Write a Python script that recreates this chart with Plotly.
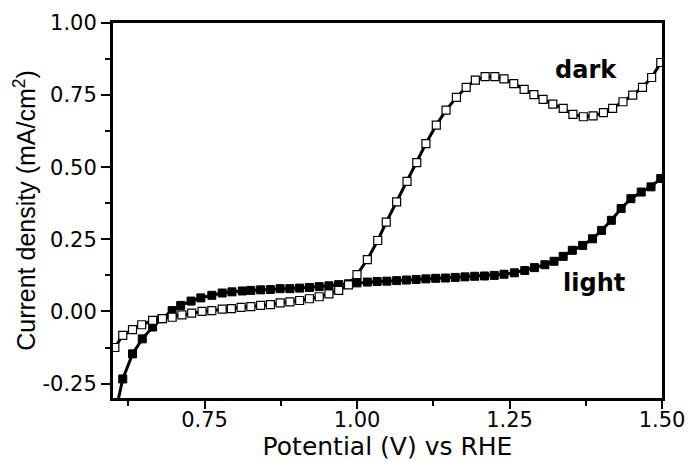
import plotly.graph_objects as go

# ---- data ----
dark_potential = [0.603, 0.616, 0.632, 0.647, 0.665, 0.681, 0.697, 0.713, 0.729, 0.746,
                  0.762, 0.779, 0.794, 0.810, 0.826, 0.842, 0.858, 0.874, 0.890, 0.906,
                  0.922, 0.938, 0.954, 0.970, 0.986, 1.000, 1.017, 1.034, 1.048, 1.065,
                  1.082, 1.098, 1.113, 1.130, 1.146, 1.163, 1.179, 1.194, 1.210, 1.226,
                  1.241, 1.257, 1.274, 1.290, 1.305, 1.321, 1.338, 1.354, 1.371, 1.387,
                  1.404, 1.419, 1.436, 1.452, 1.468, 1.483, 1.498]
dark_current = [-0.125, -0.083, -0.063, -0.046, -0.031, -0.025, -0.020, -0.012, -0.006, 0.000,
                0.003, 0.008, 0.010, 0.014, 0.017, 0.021, 0.024, 0.030, 0.033, 0.038,
                0.044, 0.051, 0.061, 0.073, 0.092, 0.128, 0.180, 0.246, 0.310, 0.380,
                0.451, 0.516, 0.582, 0.646, 0.698, 0.742, 0.777, 0.802, 0.814, 0.814,
                0.806, 0.790, 0.770, 0.752, 0.735, 0.719, 0.704, 0.683, 0.675, 0.678,
                0.689, 0.704, 0.727, 0.750, 0.777, 0.811, 0.863]

light_potential = [0.603, 0.616, 0.632, 0.648, 0.665, 0.680, 0.697, 0.711, 0.728, 0.744,
                   0.762, 0.779, 0.795, 0.812, 0.826, 0.842, 0.858, 0.874, 0.890, 0.906,
                   0.922, 0.938, 0.954, 0.970, 0.986, 1.000, 1.017, 1.033, 1.049, 1.065,
                   1.081, 1.097, 1.113, 1.129, 1.145, 1.161, 1.177, 1.193, 1.209, 1.225,
                   1.241, 1.258, 1.275, 1.291, 1.308, 1.323, 1.338, 1.353, 1.370, 1.386,
                   1.401, 1.417, 1.433, 1.449, 1.466, 1.482, 1.498]
light_current = [-0.360, -0.234, -0.147, -0.095, -0.054, -0.025, 0.003, 0.021, 0.036, 0.047,
                 0.056, 0.064, 0.068, 0.071, 0.073, 0.075, 0.076, 0.079, 0.079, 0.081,
                 0.083, 0.086, 0.089, 0.093, 0.096, 0.099, 0.102, 0.104, 0.105, 0.107,
                 0.109, 0.111, 0.113, 0.115, 0.116, 0.118, 0.120, 0.122, 0.123, 0.125,
                 0.129, 0.134, 0.142, 0.152, 0.162, 0.174, 0.191, 0.212, 0.229, 0.252,
                 0.281, 0.316, 0.357, 0.391, 0.414, 0.432, 0.461]

x_tickvals = [0.75, 1.00, 1.25, 1.50]
x_ticktext = ["0.75", "1.00", "1.25", "1.50"]
y_tickvals = [-0.25, 0.00, 0.25, 0.50, 0.75, 1.00]
y_ticktext = ["-0.25", "0.00", "0.25", "0.50", "0.75", "1.00"]

labels = ["dark", "light"]
label_pos_x = [1.375, 1.388]
label_pos_y = [0.837, 0.100]

FONT = "DejaVu Sans"

fig = go.Figure()
fig.add_trace(go.Scatter(
    x=light_potential, y=light_current, mode="lines+markers", name="light",
    line=dict(color="black", width=3),
    marker=dict(symbol="square", size=8, color="black", line=dict(color="black", width=1)),
))
fig.add_trace(go.Scatter(
    x=dark_potential, y=dark_current, mode="lines+markers", name="dark",
    line=dict(color="black", width=3),
    marker=dict(symbol="square", size=8, color="white", line=dict(color="black", width=1.2)),
))

for t, xx, yy in zip(labels, label_pos_x, label_pos_y):
    fig.add_annotation(x=xx, y=yy, text=f"<b>{t}</b>", showarrow=False,
                       font=dict(family=FONT, size=24, color="black"))

fig.update_layout(
    width=689, height=462,
    margin=dict(l=113, r=27, t=23, b=64),
    paper_bgcolor="white", plot_bgcolor="white",
    showlegend=False,
    font=dict(family=FONT, color="black"),
)
fig.update_xaxes(
    range=[0.6, 1.5], showgrid=False, zeroline=False, automargin=False,
    showline=True, linecolor="black", linewidth=3, mirror=True,
    ticks="outside", ticklen=8, tickwidth=2, tickcolor="black",
    tickvals=x_tickvals, ticktext=x_ticktext,
    minor=dict(ticks="outside", ticklen=5, tickwidth=2, tickcolor="black",
               tickvals=[0.625, 0.875, 1.125, 1.375], showgrid=False),
    tickfont=dict(family=FONT, size=21, color="black"),
    ticklabelstandoff=-7,
    title=dict(text="Potential (V) vs RHE", font=dict(family=FONT, size=25, color="black"), standoff=0),
)
fig.update_yaxes(
    range=[-0.3, 1.0], showgrid=False, zeroline=False, automargin=False,
    showline=True, linecolor="black", linewidth=3, mirror=True,
    ticks="outside", ticklen=9, tickwidth=2, tickcolor="black",
    tickvals=y_tickvals, ticktext=y_ticktext,
    minor=dict(ticks="outside", ticklen=5, tickwidth=2, tickcolor="black",
               tickvals=[-0.125, 0.125, 0.375, 0.625, 0.875], showgrid=False),
    tickfont=dict(family=FONT, size=21, color="black"),
    title=dict(text="Current density (mA/cm<sup>2</sup>)",
               font=dict(family="Liberation Sans", size=25, color="black"), standoff=0),
)

fig.write_html("out.html", config={"displayModeBar": False},
               post_script="document.body.style.margin='0';document.body.style.padding='0';")
